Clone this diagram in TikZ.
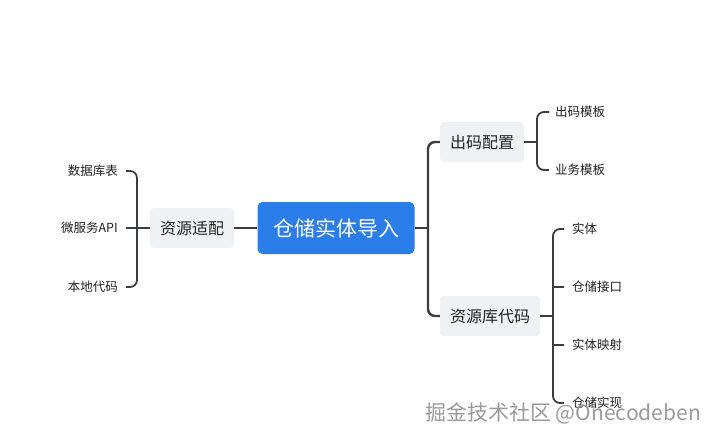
\documentclass[tikz,border=0pt]{standalone}
\usepackage{fontspec}
\setmainfont{Noto Sans CJK SC}
\definecolor{mainblue}{HTML}{2B7DE9}
\definecolor{boxgray}{HTML}{EFF2F4}
\definecolor{linegray}{HTML}{3A3D42}
\definecolor{txt}{HTML}{222222}
\definecolor{wmgray}{HTML}{9A9A9A}
\begin{document}
\begin{tikzpicture}[x=1pt,y=-1pt,
  central/.style={fill=mainblue,rounded corners=5pt,text=white,font=\fontsize{21}{24}\selectfont,minimum width=157pt,minimum height=52pt,inner sep=0pt},
  topic/.style={fill=boxgray,rounded corners=4pt,text=txt,font=\fontsize{16}{19}\selectfont,minimum height=40pt,inner sep=0pt},
  leaf/.style={text=txt,font=\fontsize{12.5}{15}\selectfont,inner sep=0pt},
  conn/.style={draw=linegray,line width=2.4pt,rounded corners=7pt},
  lconn/.style={draw=linegray,line width=1.8pt,rounded corners=7pt},
  wmark/.style={font=\fontsize{21}{24}\selectfont,anchor=west,inner sep=0pt,text=wmgray}]
\useasboundingbox (0,0) rectangle (720,442);
\fill[white] (0,0) rectangle (720,442);
% nodes
\node[central] (c) at (336,228) {仓储实体导入};
\node[topic,minimum width=84pt] (ra) at (192,228) {资源适配};
\node[topic,minimum width=84pt] (cm) at (482,142) {出码配置};
\node[topic,minimum width=100pt] (rk) at (490,316) {资源库代码};
% left leaves
\node[leaf,anchor=east] (l1) at (118,171) {数据库表};
\node[leaf,anchor=east] (l2) at (118,228) {微服务API};
\node[leaf,anchor=east] (l3) at (118,287) {本地代码};
% right leaves
\node[leaf,anchor=west] (a1) at (555,112) {出码模板};
\node[leaf,anchor=west] (a2) at (555,170) {业务模板};
\node[leaf,anchor=west] (b1) at (572,229) {实体};
\node[leaf,anchor=west] (b2) at (572,287) {仓储接口};
\node[leaf,anchor=west] (b3) at (572,345) {实体映射};
\node[leaf,anchor=west] (b4) at (572,403) {仓储实现};
% connectors
\draw[conn,rounded corners=0pt] (ra.east) -- (c.west);
\draw[conn,rounded corners=0pt] (c.east) -- (428,228);
\draw[conn] (cm.west) -- (428,142) -- (428,316) -- (rk.west);
% left bracket
\draw[lconn] ([xshift=8pt]l1.east) -- (137,171) -- (137,287) -- ([xshift=8pt]l3.east);
\draw[lconn,rounded corners=0pt] ([xshift=8pt]l2.east) -- (ra.west);
% cm bracket
\draw[lconn,rounded corners=0pt] (cm.east) -- (537,142);
\draw[lconn] ([xshift=-6pt]a1.west) -- (537,112) -- (537,170) -- ([xshift=-6pt]a2.west);
% rk bracket
\draw[lconn,rounded corners=0pt] (rk.east) -- (553,316);
\draw[lconn] ([xshift=-8pt]b1.west) -- (553,229) -- (553,403) -- ([xshift=-8pt]b4.west);
\draw[lconn,rounded corners=0pt] (553,287) -- ([xshift=-8pt]b2.west);
\draw[lconn,rounded corners=0pt] (553,345) -- ([xshift=-8pt]b3.west);
% watermark
\node[wmark] (wm) at (425,413) {掘金技术社区 @Onecodeben};
\end{tikzpicture}
\end{document}
